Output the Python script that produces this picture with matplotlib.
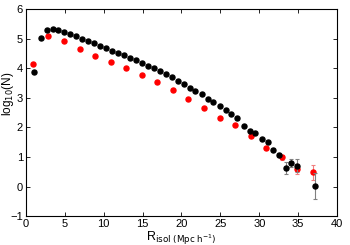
import matplotlib
matplotlib.use('Agg')
import matplotlib.pyplot as plt

plt.rcParams['font.family'] = ['Liberation Sans', 'DejaVu Sans']

# black series: fine bins
r_black = [1.1, 1.88, 2.65, 3.42, 4.19, 4.96, 5.73, 6.5, 7.27, 8.04, 8.8, 9.57,
           10.34, 11.1, 11.9, 12.6, 13.4, 14.2, 14.9, 15.7, 16.5, 17.3, 18.0, 18.8,
           19.5, 20.3, 21.07, 21.8, 22.6, 23.4, 24.1, 24.9, 25.7, 26.4, 27.2, 28.0,
           28.76, 29.5, 30.3, 31.1, 31.8, 32.6, 33.4, 34.1, 34.9, 37.2]
n_black = [3.87, 5.01, 5.30, 5.33, 5.28, 5.21, 5.14, 5.08, 4.99, 4.92, 4.84, 4.76,
           4.68, 4.59, 4.51, 4.44, 4.36, 4.27, 4.18, 4.09, 4.00, 3.91, 3.80, 3.69,
           3.58, 3.48, 3.32, 3.22, 3.12, 2.96, 2.85, 2.73, 2.58, 2.44, 2.31, 2.06,
           1.89, 1.82, 1.60, 1.50, 1.25, 1.07, 0.62, 0.80, 0.71, 0.01]
e_black = [0.0] * 38 + [0.03, 0.04, 0.06, 0.08, 0.21, 0.14, 0.22, 0.44]

# red series: coarse bins
r_red = [0.85, 2.9, 4.96, 6.92, 8.93, 10.9, 12.9, 14.9, 16.9, 18.9, 20.9, 22.9,
         24.9, 26.9, 28.9, 30.9, 32.9, 34.9, 36.9]
n_red = [4.15, 5.08, 4.91, 4.65, 4.42, 4.21, 4.00, 3.76, 3.52, 3.26, 2.96, 2.67,
         2.32, 2.09, 1.71, 1.30, 0.99, 0.59, 0.48]
e_red = [0.0] * 15 + [0.03, 0.08, 0.17, 0.26]

fig = plt.figure(figsize=(3.5, 2.45), dpi=100)
ax = fig.add_axes([0.074, 0.118, 0.889, 0.845])

ax.errorbar(r_red, n_red, yerr=e_red, fmt='o', color='red', ms=3.6,
            ecolor='#f08080', elinewidth=0.8, capsize=1.5, capthick=0.8, zorder=2)
ax.errorbar(r_black, n_black, yerr=e_black, fmt='o', color='black', ms=3.6,
            ecolor='#808080', elinewidth=0.8, capsize=1.5, capthick=0.8, zorder=3)

ax.set_xlim(0, 40)
ax.set_ylim(-1, 6)
ax.set_xticks(range(0, 41, 5))
ax.set_yticks(range(-1, 7))
ax.tick_params(direction='in', top=True, right=True, labelsize=8, length=3,
               width=0.6, pad=2)
for s in ax.spines.values():
    s.set_linewidth(0.8)

ax.set_ylabel('log$_{10}$(N)', fontsize=8.5)
ax.yaxis.set_label_coords(-0.033, 0.59)
ax.set_xlabel(r'R$_{\rm isol\ (Mpc\ h^{-1})}$', fontsize=9, labelpad=0)

fig.savefig('out.png', dpi=100)
